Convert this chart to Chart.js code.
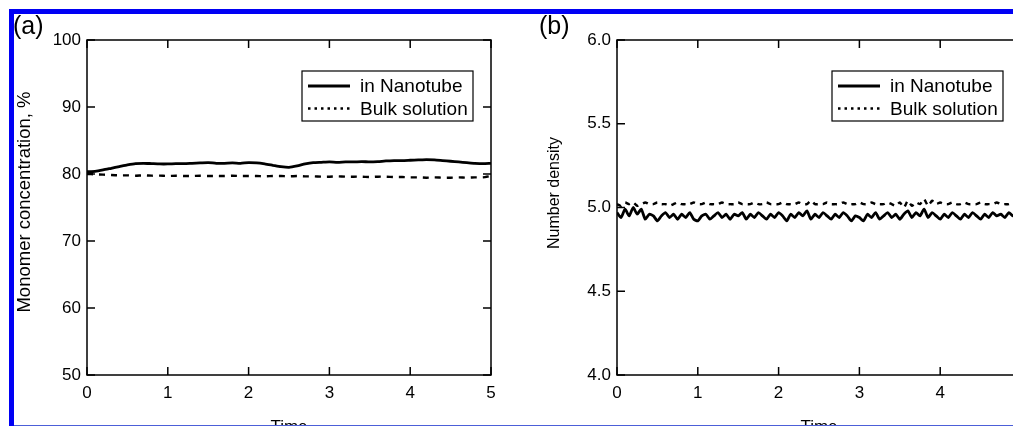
<!DOCTYPE html>
<html>
<head>
<meta charset="utf-8">
<script src="https://cdn.jsdelivr.net/npm/chart.js@4.4.1/dist/chart.umd.min.js"></script>
<style>
  html, body { margin: 0; padding: 0; background: #fff; }
  #page { position: relative; width: 1013px; height: 426px; overflow: hidden; background: #fff; }
  .panel { position: absolute; top: 0; width: 530px; height: 450px; }
  .panel canvas { display: block; }
  .tag { position: absolute; top: 13px; font: 25px "Liberation Sans", Arial, sans-serif; color: #000; line-height: 25px; }
  .edge { position: absolute; background: #0000f4; z-index: 5; }
</style>
</head>
<body>
<div id="page">
  <div class="panel" style="left:0"><canvas id="chartA" width="530" height="450"></canvas></div>
  <div class="panel" style="left:530px"><canvas id="chartB" width="530" height="450"></canvas></div>
  <div class="tag" style="left:13px">(a)</div>
  <div class="tag" style="left:539px">(b)</div>
  <div class="edge" style="left:9px;top:9px;width:1004px;height:5px"></div>
  <div class="edge" style="left:9px;top:9px;width:5px;height:417px"></div>
  <div class="edge" style="left:14px;top:425px;width:999px;height:1px;background:#4c5fd8"></div>
</div>
<script>
// series labels
const seriesNames = ['in Nanotube', 'Bulk solution'];

// (a) monomer concentration, %
const timesA = [0, 0.1, 0.2, 0.3, 0.4, 0.5, 0.6, 0.7, 0.8, 0.9,
  1.0, 1.1, 1.2, 1.3, 1.4, 1.5, 1.6, 1.7, 1.8, 1.9,
  2.0, 2.1, 2.2, 2.3, 2.4, 2.5, 2.6, 2.7, 2.8, 2.9,
  3.0, 3.1, 3.2, 3.3, 3.4, 3.5, 3.6, 3.7, 3.8, 3.9,
  4.0, 4.1, 4.2, 4.3, 4.4, 4.5, 4.6, 4.7, 4.8, 4.9, 5.0];
const nanoA = [80.35, 80.4, 80.6, 80.85, 81.1, 81.35, 81.55, 81.6, 81.55, 81.5,
  81.5, 81.55, 81.55, 81.6, 81.65, 81.7, 81.6, 81.6, 81.65, 81.6,
  81.7, 81.65, 81.5, 81.3, 81.1, 81.0, 81.2, 81.5, 81.7, 81.75,
  81.8, 81.75, 81.8, 81.8, 81.85, 81.8, 81.85, 81.95, 82.0, 82.0,
  82.05, 82.1, 82.15, 82.1, 82.0, 81.9, 81.8, 81.7, 81.6, 81.55, 81.6];
const bulkA = [80.0, 79.95, 79.9, 79.85, 79.8, 79.8, 79.75, 79.8, 79.75, 79.75,
  79.7, 79.75, 79.7, 79.7, 79.75, 79.7, 79.7, 79.7, 79.75, 79.7,
  79.7, 79.7, 79.65, 79.7, 79.7, 79.65, 79.7, 79.65, 79.65, 79.6,
  79.6, 79.65, 79.6, 79.6, 79.6, 79.55, 79.6, 79.6, 79.55, 79.55,
  79.5, 79.5, 79.45, 79.5, 79.45, 79.45, 79.5, 79.45, 79.5, 79.5, 79.7];

// (b) number density
const timesB = [0, 0.05, 0.1, 0.15, 0.2, 0.25, 0.3, 0.35, 0.4, 0.45,
  0.5, 0.55, 0.6, 0.65, 0.7, 0.75, 0.8, 0.85, 0.9, 0.95,
  1.0, 1.05, 1.1, 1.15, 1.2, 1.25, 1.3, 1.35, 1.4, 1.45,
  1.5, 1.55, 1.6, 1.65, 1.7, 1.75, 1.8, 1.85, 1.9, 1.95,
  2.0, 2.05, 2.1, 2.15, 2.2, 2.25, 2.3, 2.35, 2.4, 2.45,
  2.5, 2.55, 2.6, 2.65, 2.7, 2.75, 2.8, 2.85, 2.9, 2.95,
  3.0, 3.05, 3.1, 3.15, 3.2, 3.25, 3.3, 3.35, 3.4, 3.45,
  3.5, 3.55, 3.6, 3.65, 3.7, 3.75, 3.8, 3.85, 3.9, 3.95,
  4.0, 4.05, 4.1, 4.15, 4.2, 4.25, 4.3, 4.35, 4.4, 4.45,
  4.5, 4.55, 4.6, 4.65, 4.7, 4.75, 4.8, 4.85, 4.9, 4.95, 5.0];
const nanoB = [4.97, 4.94, 4.99, 4.95, 5.00, 4.96, 4.99, 4.93, 4.96, 4.95,
  4.92, 4.95, 4.97, 4.94, 4.96, 4.93, 4.96, 4.94, 4.97, 4.93,
  4.92, 4.95, 4.96, 4.93, 4.95, 4.97, 4.94, 4.96, 4.93, 4.96,
  4.95, 4.97, 4.93, 4.96, 4.94, 4.97, 4.95, 4.93, 4.96, 4.94,
  4.97, 4.95, 4.92, 4.96, 4.94, 4.97, 4.95, 4.98, 4.93, 4.96,
  4.94, 4.97, 4.95, 4.93, 4.96, 4.94, 4.97, 4.95, 4.92, 4.95,
  4.94, 4.92, 4.96, 4.94, 4.97, 4.93, 4.95, 4.97, 4.94, 4.96,
  4.93, 4.96, 4.98, 4.94, 4.97, 4.95, 4.99, 4.94, 4.97, 4.95,
  4.93, 4.96, 4.94, 4.97, 4.95, 4.93, 4.96, 4.94, 4.97, 4.95,
  4.93, 4.96, 4.94, 4.97, 4.95, 4.96, 4.94, 4.97, 4.95, 4.96, 4.97];
const bulkB = [5.02, 5.01, 5.03, 5.02, 5.03, 5.01, 5.02, 5.03, 5.02, 5.02,
  5.03, 5.02, 5.02, 5.01, 5.02, 5.03, 5.02, 5.02, 5.02, 5.03,
  5.02, 5.02, 5.03, 5.02, 5.02, 5.02, 5.03, 5.02, 5.02, 5.02,
  5.03, 5.02, 5.02, 5.02, 5.03, 5.02, 5.02, 5.03, 5.02, 5.02,
  5.02, 5.03, 5.02, 5.02, 5.02, 5.03, 5.02, 5.02, 5.04, 5.02,
  5.02, 5.02, 5.03, 5.02, 5.02, 5.02, 5.03, 5.02, 5.02, 5.02,
  5.03, 5.02, 5.02, 5.03, 5.02, 5.02, 5.02, 5.03, 5.02, 5.01,
  5.03, 5.00, 5.04, 5.01, 5.03, 5.02, 5.05, 5.01, 5.04, 5.02,
  5.03, 5.02, 5.02, 5.03, 5.02, 5.02, 5.03, 5.02, 5.02, 5.02,
  5.03, 5.02, 5.02, 5.02, 5.03, 5.02, 5.02, 5.02, 5.03, 5.02, 5.02];

const FONT = '"Liberation Sans", Arial, sans-serif';

// box frame, inward ticks on all four sides, the y title and the boxed legend
const framePlugin = {
  id: 'frame',
  afterDatasetsDraw(chart, args, opts) {
    const { ctx, chartArea: a } = chart;
    const x = chart.scales.x, y = chart.scales.y;
    ctx.save();
    ctx.strokeStyle = '#000';
    ctx.lineWidth = 1.5;
    ctx.strokeRect(a.left, a.top, a.width, a.height);
    ctx.beginPath();
    x.ticks.forEach(t => {
      const p = x.getPixelForValue(t.value);
      ctx.moveTo(p, a.bottom); ctx.lineTo(p, a.bottom - 8);
      ctx.moveTo(p, a.top); ctx.lineTo(p, a.top + 8);
    });
    y.ticks.forEach(t => {
      const p = y.getPixelForValue(t.value);
      ctx.moveTo(a.left, p); ctx.lineTo(a.left + 8, p);
      ctx.moveTo(a.right, p); ctx.lineTo(a.right - 8, p);
    });
    ctx.stroke();

    // y axis title, rotated
    ctx.save();
    ctx.translate(opts.titleX, opts.titleY);
    ctx.rotate(-Math.PI / 2);
    ctx.fillStyle = '#000';
    ctx.font = opts.titleSize + 'px ' + FONT;
    ctx.textAlign = 'center';
    ctx.textBaseline = 'middle';
    ctx.fillText(opts.title, 0, 0);
    ctx.restore();

    const bx = a.right - opts.right - opts.width;
    const by = a.top + opts.top;
    ctx.fillStyle = '#fff';
    ctx.fillRect(bx, by, opts.width, opts.height);
    ctx.lineWidth = 1.2;
    ctx.strokeRect(bx, by, opts.width, opts.height);
    ctx.font = '19px ' + FONT;
    ctx.textBaseline = 'middle';
    chart.data.datasets.forEach((ds, i) => {
      const ly = by + 15 + i * 22.5;
      ctx.beginPath();
      ctx.lineWidth = i === 0 ? 3 : 2.5;
      ctx.setLineDash(i === 0 ? [] : [2.5, 4]);
      ctx.moveTo(bx + 6, ly);
      ctx.lineTo(bx + 48, ly);
      ctx.stroke();
      ctx.setLineDash([]);
      ctx.fillStyle = '#000';
      ctx.fillText(ds.label, bx + 58, ly + 1);
    });
    ctx.restore();
  }
};

function makeChart(id, times, nano, bulk, yMin, yMax, yStep, yTitle, titleSize, titleY, dash, digits) {
  new Chart(document.getElementById(id), {
    type: 'line',
    data: {
      datasets: [
        {
          label: seriesNames[0],
          data: times.map((t, i) => ({ x: t, y: nano[i] })),
          borderColor: '#000', borderWidth: 2.8, pointRadius: 0, tension: 0.2
        },
        {
          label: seriesNames[1],
          data: times.map((t, i) => ({ x: t, y: bulk[i] })),
          borderColor: '#000', borderWidth: 2.4, borderDash: dash, pointRadius: 0, tension: 0.2
        }
      ]
    },
    options: {
      responsive: false,
      animation: false,
      layout: { padding: { top: 40, right: 39, left: 0, bottom: 0 } },
      plugins: {
        legend: { display: false },
        tooltip: { enabled: false },
        frame: { width: 171, height: 50, top: 31, right: 18,
                 title: yTitle, titleSize: titleSize, titleX: 25, titleY: titleY }
      },
      scales: {
        x: {
          type: 'linear', min: 0, max: 5,
          ticks: { stepSize: 1, padding: 8, color: '#000', font: { family: FONT, size: 17 } },
          grid: { display: false, drawTicks: false },
          border: { display: false },
          title: { display: true, text: 'Time', color: '#000', font: { family: FONT, size: 17 }, padding: { top: 0, bottom: 12 } },
          afterFit(s) { s.height = 75; }
        },
        y: {
          min: yMin, max: yMax,
          ticks: { stepSize: yStep, padding: 6, color: '#000', font: { family: FONT, size: 17 },
                   callback: v => v.toFixed(digits) },
          grid: { display: false, drawTicks: false },
          border: { display: false },
          afterFit(s) { s.width = 87; }
        }
      }
    },
    plugins: [framePlugin]
  });
}

makeChart('chartA', timesA, nanoA, bulkA, 50, 100, 10, 'Monomer concentration, %', 18.5, 202, [6, 6], 0);
makeChart('chartB', timesB, nanoB, bulkB, 4, 6, 0.5, 'Number density', 16, 193, [5, 5], 1);
</script>
</body>
</html>
